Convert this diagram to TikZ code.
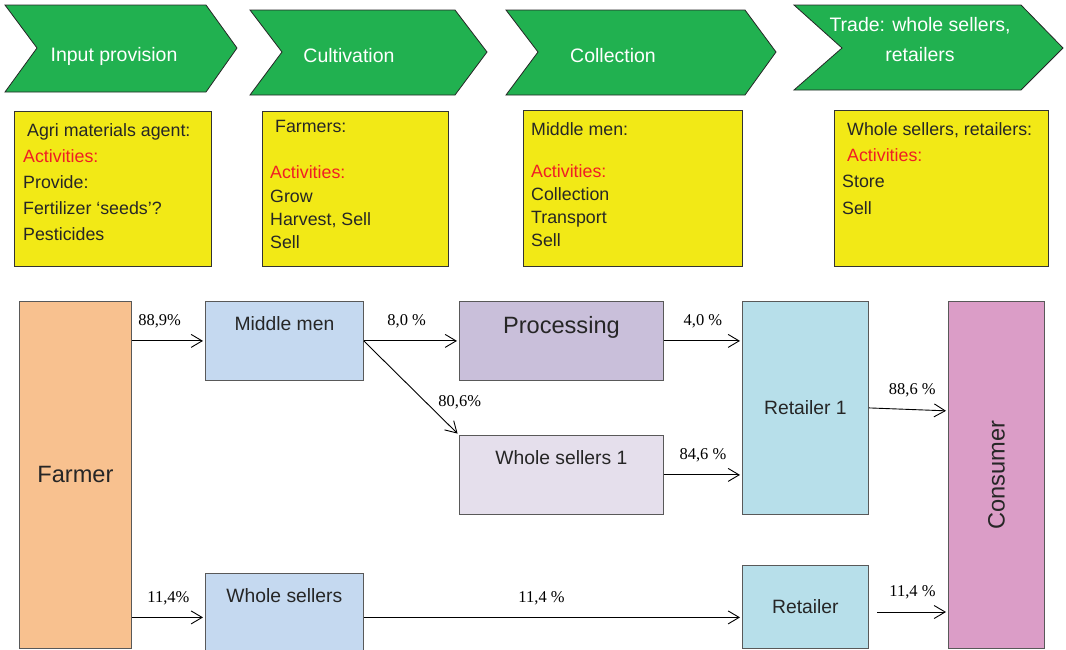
\documentclass[tikz,border=0pt]{standalone}
\usepackage{fontspec}
\setmainfont{Liberation Serif}
\setsansfont{Liberation Sans}
\usetikzlibrary{arrows.meta}

\definecolor{chevgreen}{RGB}{33,177,80}
\definecolor{infoyellow}{RGB}{242,233,22}
\definecolor{actred}{RGB}{240,30,36}
\definecolor{farmorange}{RGB}{248,193,143}
\definecolor{mmblue}{RGB}{197,217,240}
\definecolor{procpurple}{RGB}{201,191,218}
\definecolor{wslilac}{RGB}{229,223,236}
\definecolor{retblue}{RGB}{183,223,234}
\definecolor{conspink}{RGB}{219,157,199}

\begin{document}
\begin{tikzpicture}[x=1pt, y=-1pt,
		chevron/.style = {fill=chevgreen, draw=black!85, line width=0.8pt},
		stage/.style = {text=white, align=center, font=\sffamily\fontsize{19.5}{30}\selectfont},
		infobox/.style = {draw=black!80, fill=infoyellow, line width=0.8pt, anchor=north west, inner sep=0pt},
		info/.style = {anchor=north west, align=left, inner sep=0pt, text=black!85},
		flowbox/.style = {draw=black!65, line width=0.8pt, anchor=north west, inner sep=0pt, text=black!85, font=\sffamily\fontsize{19.3}{22}\selectfont},
		boxtitle/.style = {anchor=north, text=black!85, font=\sffamily\fontsize{19.3}{22}\selectfont},
		bigtitle/.style = {text=black!85, font=\sffamily\fontsize{23.6}{26}\selectfont},
		flowarrow/.style = {-{Straight Barb[length=11pt,width=13pt]}, line width=0.9pt, shorten >=2pt},
		pct/.style = {above=9pt, font=\fontsize{16.5}{18}\selectfont}]

		\useasboundingbox (0,0) rectangle (1066,649);
		\clip (0,0) rectangle (1066,649);

		\draw[chevron] (5,5) -- (206,5) -- (237,48) -- (206,92) -- (5,92) -- (37,48) -- cycle;
		\draw[chevron] (250,10) -- (455,10) -- (487,52) -- (455,95) -- (250,95) -- (282,52) -- cycle;
		\draw[chevron] (506,10) -- (745,10) -- (776,52) -- (745,95) -- (506,95) -- (538,52) -- cycle;
		\draw[chevron] (794,5) -- (1021,5) -- (1063,48) -- (1021,90) -- (794,90) -- (842,48) -- cycle;

		\node[stage] (input) at (114,56) {Input provision};
		\node[stage] (cultiv) at (349,56) {Cultivation};
		\node[stage] (collect) at (613,56) {Collection};
		\node[stage] (trade) at (920,40) {Trade: whole sellers,\\retailers};

		\node[infobox, minimum width=197pt, minimum height=155pt] (agentbox) at (14,111) {};
		\node[infobox, minimum width=186pt, minimum height=155pt] (farmbox) at (262,111) {};
		\node[infobox, minimum width=219pt, minimum height=156pt] (mmbox) at (523,110) {};
		\node[infobox, minimum width=214pt, minimum height=156pt] (tradebox) at (834,110) {};

		\node[info, font=\sffamily\fontsize{17.8}{26.2}\selectfont] (agenttext) at (23,123)
			{\hspace*{4pt}Agri materials agent:\\ \textcolor{actred}{Activities:}\\ Provide:\\ Fertilizer ‘seeds’?\\ Pesticides};
		\node[info, font=\sffamily\fontsize{17.8}{23.2}\selectfont] (farmtext) at (270,120)
			{\hspace*{5pt}Farmers:\\ \mbox{}\\ \textcolor{actred}{Activities:}\\ Grow\\ Harvest, Sell\\ Sell};
		\node[info, font=\sffamily\fontsize{17.8}{23}\selectfont] (mmtext) at (531,122)
			{Middle men:\\[19pt] \textcolor{actred}{Activities:}\\ Collection\\ Transport\\ Sell};
		\node[info, font=\sffamily\fontsize{17.8}{26.3}\selectfont] (tradetext) at (842,122)
			{\hspace*{5pt}Whole sellers, retailers:\\ \hspace*{5pt}\textcolor{actred}{Activities:}\\ Store\\ Sell};

		\node[flowbox, fill=farmorange, minimum width=112pt, minimum height=347pt] (farmer) at (19,301) {};
		\node[flowbox, fill=mmblue, minimum width=158pt, minimum height=79pt] (mm) at (205,301) {};
		\node[flowbox, fill=procpurple, minimum width=204pt, minimum height=79pt] (proc) at (459,301) {};
		\node[flowbox, fill=wslilac, minimum width=204pt, minimum height=79pt] (ws1) at (459,435) {};
		\node[flowbox, fill=mmblue, minimum width=158pt, minimum height=88pt] (ws) at (205,573) {};
		\node[flowbox, fill=retblue, minimum width=126pt, minimum height=213pt] (ret1) at (742,301) {Retailer 1};
		\node[flowbox, fill=retblue, minimum width=126pt, minimum height=83pt] (ret) at (742,565) {Retailer};
		\node[flowbox, fill=conspink, minimum width=96pt, minimum height=347pt] (cons) at (948,301) {};

		\node[bigtitle] (farmerlbl) at (farmer.center) {Farmer};
		\node[bigtitle, rotate=90] (conslbl) at (cons.center) {Consumer};
		\node[boxtitle] (mmlbl) at ([yshift=-12pt]mm.north) {Middle men};
		\node[boxtitle, font=\sffamily\fontsize{23.6}{26}\selectfont] (proclbl) at ([yshift=-12pt]proc.north) {Processing};
		\node[boxtitle] (ws1lbl) at ([yshift=-12pt]ws1.north) {Whole sellers 1};
		\node[boxtitle] (wslbl) at ([yshift=-12pt]ws.north) {Whole sellers};

		\coordinate (retout) at (877,612);

		\draw[flowarrow] (farmer.east |- mm.west) -- node[pct, pos=.38] {88,9\%} (mm.west);
		\draw[flowarrow] (farmer.east |- ws.west) -- node[pct] {11,4\%} (ws.west);
		\draw[flowarrow] (mm.east) -- node[pct, pos=.45] {8,0 \%} (proc.west);
		\draw[flowarrow] (mm.east) -- node[pos=.65, right=9pt, font=\fontsize{16.5}{18}\selectfont] {80,6\%} (ws1.north west);
		\draw[flowarrow] (proc.east) -- node[pct] {4,0 \%} (ret1.west |- proc.east);
		\draw[flowarrow] (ws1.east) -- node[pct] {84,6 \%} (ret1.west |- ws1.east);
		\draw[flowarrow] (ws.east) -- node[pct, pos=.47] {11,4 \%} (ret.west |- ws.east);
		\draw[flowarrow] (ret1.east) -- node[pct, pos=.55] {88,6 \%} ([yshift=-3pt]cons.west |- ret1.east);
		\draw[flowarrow] (retout) -- node[pct] {11,4 \%} (cons.west |- retout);
	\end{tikzpicture}
\end{document}
